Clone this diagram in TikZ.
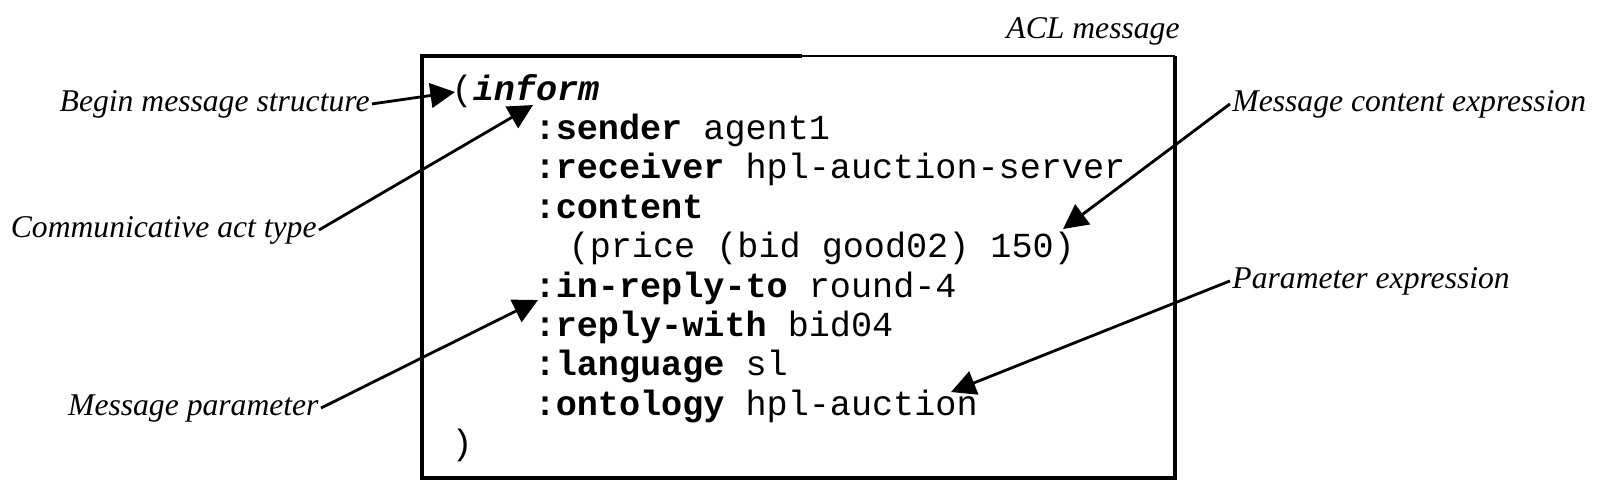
\documentclass[tikz,border=0pt]{standalone}
\usepackage{fontspec}
\setmainfont{Liberation Serif}
\setmonofont{Liberation Mono}
\usetikzlibrary{arrows.meta}

\tikzset{
  note/.style={font=\fontsize{9}{11}\selectfont\itshape, inner sep=0.5pt},
  code/.style={font=\fontsize{10}{12}\selectfont\ttfamily, anchor=base west, inner sep=0pt},
  pointer/.style={-{Triangle[length=7pt,width=7pt]}, line width=0.8pt},
}

\begin{document}
\begin{tikzpicture}
  \useasboundingbox (0,0) rectangle (16.12,-4.98);

  % message box
  \draw[line width=0.9pt] (8.02,-0.56) -- (4.22,-0.56) -- (4.22,-4.78) -- (11.75,-4.78) -- (11.75,-0.56);
  \draw[line width=0.5pt] (8.02,-0.56) -- (11.75,-0.56);
  \node[note, anchor=base west] (acl) at (10.04,-0.38) {ACL message};

  % message text
  \node[code] (open) at (4.51,-1.00) {(\textbf{\textit{inform}}};
  \node[code] (sender) at (5.34,-1.394) {\textbf{:sender} agent1};
  \node[code] (receiver) at (5.34,-1.788) {\textbf{:receiver} hpl-auction-server};
  \node[code] (content) at (5.34,-2.182) {\textbf{:content}};
  \node[code] (price) at (5.68,-2.576) {(price (bid good02) 150)};
  \node[code] (inreply) at (5.34,-2.970) {\textbf{:in-reply-to} round-4};
  \node[code] (replywith) at (5.34,-3.364) {\textbf{:reply-with} bid04};
  \node[code] (language) at (5.34,-3.758) {\textbf{:language} sl};
  \node[code] (ontology) at (5.34,-4.152) {\textbf{:ontology} hpl-auction};
  \node[code] (close) at (4.51,-4.546) {)};

  % annotations
  \node[note, anchor=base east] (begin) at (3.72,-1.11) {Begin message structure};
  \node[note, anchor=base east] (acttype) at (3.19,-2.37) {Communicative act type};
  \node[note, anchor=base east] (msgparam) at (3.21,-4.15) {Message parameter};
  \node[note, anchor=base west] (contentexpr) at (12.30,-1.11) {Message content expression};
  \node[note, anchor=base west] (paramexpr) at (12.30,-2.88) {Parameter expression};

  \coordinate (tBegin) at (4.55,-0.92);
  \coordinate (tAct) at (5.33,-1.05);
  \coordinate (tParam) at (5.38,-3.00);
  \coordinate (tContent) at (10.63,-2.29);
  \coordinate (tExpr) at (9.51,-3.92);

  \draw[pointer] (begin.east) -- (tBegin);
  \draw[pointer] (acttype.east) -- (tAct);
  \draw[pointer] (msgparam.east) -- (tParam);
  \draw[pointer] (contentexpr.west) -- (tContent);
  \draw[pointer] (paramexpr.west) -- (tExpr);
\end{tikzpicture}
\end{document}
